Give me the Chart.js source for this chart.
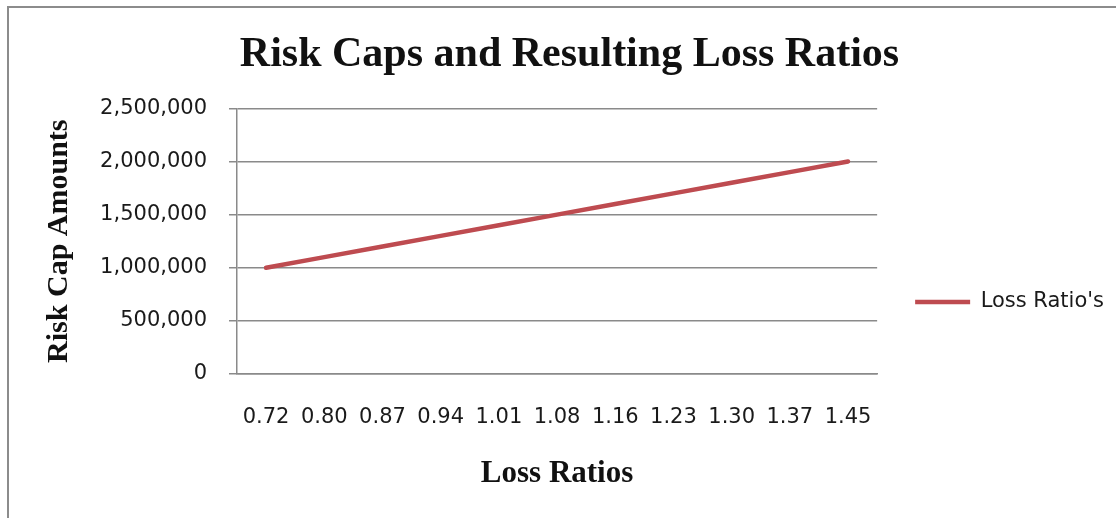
<!DOCTYPE html>
<html>
<head>
<meta charset="utf-8">
<title>Risk Caps and Resulting Loss Ratios</title>
<script src="https://cdn.jsdelivr.net/npm/chart.js@4.4.1/dist/chart.umd.min.js"></script>
<style>
    html, body { margin: 0; padding: 0; background: #fff; overflow: hidden; }
    #wrap { position: relative; width: 1116px; height: 518px; }
    #frame { position: absolute; left: 7px; top: 6px; width: 1200px; height: 600px; border: 2px solid #8c8c8c; }
    #chart { position: absolute; left: 0; top: 0; }
</style>
</head>
<body>
<div id="wrap">
    <div id="frame"></div>
    <canvas id="chart" width="1116" height="518"></canvas>
</div>
<script>
// Data dari grafik
const lossRatios = ['0.72', '0.80', '0.87', '0.94', '1.01', '1.08', '1.16', '1.23', '1.30', '1.37', '1.45'];
const riskCaps = [1000000, 1100000, 1200000, 1300000, 1400000, 1500000, 1600000, 1700000, 1800000, 1900000, 2000000];
const seriesName = "Loss Ratio's";

const gridColor = '#8a8a8a';
const lineColor = '#be4b50';
const tickFont = { family: 'DejaVu Sans', size: 21 };

// Geser legenda sedikit ke bawah, seperti di Excel
const legendShift = {
    id: 'legendShift',
    afterLayout(chart) {
        const lg = chart.legend;
        if (!lg) return;
        lg.top += 43;
        lg.bottom += 43;
    }
};

const ctx = document.getElementById('chart').getContext('2d');

new Chart(ctx, {
    type: 'line',
    data: {
        labels: lossRatios,
        datasets: [{
            label: seriesName,
            data: riskCaps,
            borderColor: lineColor,
            backgroundColor: lineColor,
            borderWidth: 4.5,
            pointRadius: 0,
            tension: 0,
            borderCapStyle: 'round'
        }]
    },
    options: {
        responsive: false,
        animation: false,
        layout: {
            padding: { left: 25, right: 2, top: 0, bottom: 0 }
        },
        plugins: {
            title: {
                display: true,
                text: 'Risk Caps and Resulting Loss Ratios',
                color: '#111',
                font: { family: 'Liberation Serif', size: 42, weight: 'bold' },
                padding: { top: 30, bottom: 28 }
            },
            legend: {
                position: 'right',
                labels: {
                    usePointStyle: true,
                    pointStyle: 'line',
                    pointStyleWidth: 55,
                    padding: 38,
                    color: '#1a1a1a',
                    font: tickFont
                }
            },
            tooltip: { enabled: false }
        },
        scales: {
            x: {
                offset: true,
                grid: { display: false, drawTicks: false },
                border: { display: true, color: gridColor, width: 1.5 },
                ticks: {
                    padding: 31,
                    color: '#1a1a1a',
                    maxRotation: 0,
                    autoSkip: false,
                    font: tickFont
                },
                title: {
                    display: true,
                    text: 'Loss Ratios',
                    color: '#111',
                    font: { family: 'Liberation Serif', size: 31, weight: 'bold' },
                    padding: { top: 0, bottom: 25 }
                },
                afterFit(scale) {
                    scale.height = 144;
                }
            },
            y: {
                min: 0,
                max: 2500000,
                grid: {
                    color: gridColor,
                    lineWidth: 1.5,
                    drawTicks: true,
                    tickLength: 8
                },
                border: { display: true, color: gridColor, width: 1.5 },
                ticks: {
                    stepSize: 500000,
                    padding: 22,
                    color: '#1a1a1a',
                    font: tickFont,
                    callback: function(value) {
                        return value.toLocaleString('en-US');
                    }
                },
                title: {
                    display: true,
                    text: 'Risk Cap Amounts',
                    color: '#111',
                    font: { family: 'Liberation Serif', size: 30, weight: 'bold' },
                    padding: { top: 16, bottom: 0 }
                },
                afterFit(scale) {
                    scale.width = 212;
                }
            }
        }
    },
    plugins: [legendShift]
});
</script>
</body>
</html>
